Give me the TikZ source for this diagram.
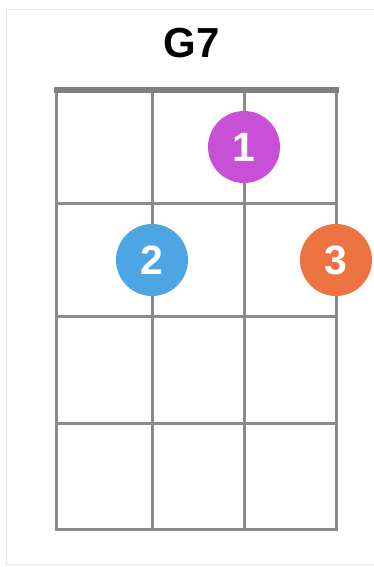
\documentclass[tikz,border=0pt]{standalone}
\usepackage{fontspec}
\setmainfont{Liberation Sans}
\usepackage{xcolor}
\usepackage{tikz}
\usetikzlibrary{positioning}
\definecolor{chordgrey}{RGB}{138,138,138}
\definecolor{chordnut}{RGB}{128,128,128}
\definecolor{chordcard}{RGB}{232,232,232}
\definecolor{chordpurple}{RGB}{200,80,215}
\definecolor{chordblue}{RGB}{78,165,228}
\definecolor{chordorange}{RGB}{236,116,66}

\begin{document}
\begin{tikzpicture}[
  x=1pt, y=-1pt,
  fret/.style={draw=chordgrey, line width=3pt},
  nut/.style={draw=chordnut, line width=6pt},
  finger/.style={circle, minimum size=72pt, inner sep=0pt, text=white,
                 font=\fontsize{41}{41}\selectfont\bfseries},
  title/.style={font=\fontsize{42}{42}\selectfont\bfseries}
]
\useasboundingbox (0,0) rectangle (374,567);
\draw[chordcard, line width=1pt] (6,10) rectangle (380,564);
\node[title] (name) at (192,43) {G7};
% strings and frets
\foreach \sx in {56,152,244,336}
  \draw[fret] (\sx,90) -- (\sx,529);
\foreach \fy in {203,316,423,529}
  \draw[fret] (54.5,\fy) -- (337.5,\fy);
\draw[nut] (53.5,90) -- (338.5,90);
% fingers
\node[finger, fill=chordpurple] (f1) at (244,147) {1};
\node[finger, fill=chordblue] (f2) at (152,260) {2};
\node[finger, fill=chordorange] (f3) at (336,260) {3};
\end{tikzpicture}
\end{document}
